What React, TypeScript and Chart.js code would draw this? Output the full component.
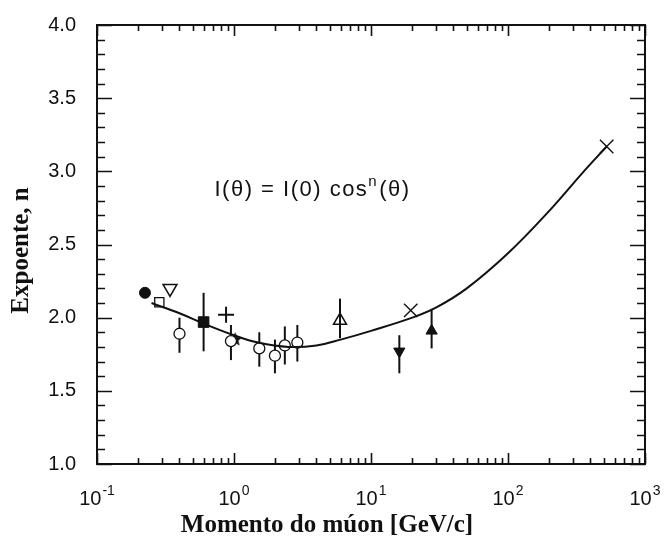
import React, { useEffect, useRef } from "react";
import { Chart, registerables } from "chart.js";

Chart.register(...registerables);

// ---- Axis ticks ----
const xTickValues = [0.1, 1, 10, 100, 1000];
const xTickBase = "10";
const xTickExponents = ["-1", "0", "1", "2", "3"];
const yTickValues = [1.0, 1.5, 2.0, 2.5, 3.0, 3.5, 4.0];
const yTickLabels = ["1.0", "1.5", "2.0", "2.5", "3.0", "3.5", "4.0"];

const xTitle = "Momento do múon [GeV/c]";
const yTitle = "Expoente, n";
const formulaMain = "I(θ) = I(0) cos";
const formulaSup = "n";
const formulaTail = "(θ)";
const formulaAt = { x: 0.72, y: 2.83 };

// ---- Fitted curve ----
const fitMomentum = [0.25, 0.4, 0.6, 1.0, 1.5, 2.5, 4, 6, 10, 20, 30, 50, 100, 200, 350, 525];
const fitExponent = [2.1, 2.03, 1.96, 1.88, 1.83, 1.8, 1.81, 1.85, 1.91, 2.0, 2.07, 2.2, 2.44, 2.73, 2.99, 3.17];

// ---- Measurements ----
const filledCircleP = [0.224];
const filledCircleN = [2.17];

const openSquareP = [0.285];
const openSquareN = [2.105];

const openDownTriP = [0.341];
const openDownTriN = [2.2];

const openCircleP = [0.4, 0.95, 1.53, 1.99, 2.35, 2.9];
const openCircleN = [1.89, 1.84, 1.79, 1.74, 1.81, 1.83];
const openCircleLo = [1.76, 1.71, 1.665, 1.62, 1.68, 1.7];
const openCircleHi = [2.0, 1.95, 1.9, 1.85, 1.94, 1.95];

const filledSquareP = [0.6];
const filledSquareN = [1.97];
const filledSquareLo = [1.77];
const filledSquareHi = [2.17];

const plusP = [0.875];
const plusN = [2.02];

const starP = [1.02];
const starN = [1.85];

const openUpTriP = [5.94];
const openUpTriN = [1.98];
const openUpTriLo = [1.86];
const openUpTriHi = [2.13];

const filledDownTriP = [16.1];
const filledDownTriN = [1.77];
const filledDownTriLo = [1.62];
const filledDownTriHi = [1.88];

const crossP = [19.5, 525];
const crossN = [2.05, 3.17];

const filledUpTriP = [27.7];
const filledUpTriN = [1.91];
const filledUpTriLo = [1.79];
const filledUpTriHi = [2.06];

const INK = "#111111";
const SANS = "'Liberation Sans', Arial, sans-serif";
const SERIF = "'Liberation Serif', 'Times New Roman', serif";

const pts = (xs: number[], ys: number[]) => xs.map((x, i) => ({ x, y: ys[i] }));

function makeStar(size: number) {
  const c = document.createElement("canvas");
  c.width = size;
  c.height = size;
  const ctx = c.getContext("2d")!;
  const cx = size / 2;
  const cy = size / 2;
  const R = size / 2;
  const r = R * 0.45;
  ctx.beginPath();
  for (let i = 0; i < 10; i++) {
    const a = -Math.PI / 2 + (i * Math.PI) / 5;
    const rad = i % 2 === 0 ? R : r;
    ctx.lineTo(cx + rad * Math.cos(a), cy + rad * Math.sin(a));
  }
  ctx.closePath();
  ctx.fillStyle = INK;
  ctx.fill();
  return c;
}

const decorPlugin = {
  id: "decor",
  beforeDatasetsDraw(chart: any) {
    const ctx = chart.ctx;
    const xs = chart.scales.x;
    const ys = chart.scales.y;
    ctx.save();
    ctx.strokeStyle = INK;
    ctx.lineWidth = 2;
    chart.data.datasets.forEach((ds: any) => {
      if (!ds.errLo) return;
      ds.data.forEach((p: any, i: number) => {
        const x = xs.getPixelForValue(p.x);
        ctx.beginPath();
        ctx.moveTo(x, ys.getPixelForValue(ds.errLo[i]));
        ctx.lineTo(x, ys.getPixelForValue(ds.errHi[i]));
        ctx.stroke();
      });
    });
    ctx.restore();
  },
  afterDatasetsDraw(chart: any) {
    const ctx = chart.ctx;
    const { left, right, top, bottom } = chart.chartArea;
    const xs = chart.scales.x;
    const ys = chart.scales.y;
    ctx.save();
    ctx.strokeStyle = INK;
    ctx.lineWidth = 2;
    ctx.strokeRect(left, top, right - left, bottom - top);
    ctx.lineWidth = 1.6;
    // y ticks (left & right, inward)
    for (let k = 10; k <= 40; k++) {
      const v = k / 10;
      const y = Math.round(ys.getPixelForValue(v)) + 0.5;
      const major = k % 5 === 0;
      const len = major ? 15 : 8;
      ctx.beginPath();
      ctx.moveTo(left, y);
      ctx.lineTo(left + len, y);
      ctx.moveTo(right, y);
      ctx.lineTo(right - len, y);
      ctx.stroke();
    }
    // x ticks (bottom & top, inward)
    for (let d = -1; d <= 3; d++) {
      for (let m = 1; m <= 9; m++) {
        if (d === 3 && m > 1) break;
        const v = m * Math.pow(10, d);
        const x = Math.round(xs.getPixelForValue(v)) + 0.5;
        const len = m === 1 ? 11 : 6;
        ctx.beginPath();
        ctx.moveTo(x, bottom);
        ctx.lineTo(x, bottom - len);
        ctx.moveTo(x, top);
        ctx.lineTo(x, top + len);
        ctx.stroke();
      }
    }
    // formula
    const fx = xs.getPixelForValue(formulaAt.x);
    const fy = ys.getPixelForValue(formulaAt.y);
    ctx.fillStyle = INK;
    ctx.textBaseline = "alphabetic";
    ctx.textAlign = "left";
    (ctx as any).letterSpacing = "1.5px";
    ctx.font = `22px ${SANS}`;
    ctx.fillText(formulaMain, fx, fy);
    let w = ctx.measureText(formulaMain).width;
    ctx.font = `15px ${SANS}`;
    ctx.fillText(formulaSup, fx + w, fy - 10);
    w += ctx.measureText(formulaSup).width + 1;
    ctx.font = `22px ${SANS}`;
    ctx.fillText(formulaTail, fx + w, fy);
    (ctx as any).letterSpacing = "0px";
    ctx.restore();
  },
  afterDraw(chart: any) {
    const ctx = chart.ctx;
    const xs = chart.scales.x;
    const { bottom, top } = chart.chartArea;
    ctx.save();
    ctx.fillStyle = INK;
    // x tick labels: base 10 with raised exponent
    ctx.textBaseline = "alphabetic";
    ctx.textAlign = "left";
    xTickValues.forEach((v, i) => {
      const x = xs.getPixelForValue(v);
      ctx.font = `20px ${SANS}`;
      const wb = ctx.measureText(xTickBase).width;
      ctx.font = `14px ${SANS}`;
      const we = ctx.measureText(xTickExponents[i]).width;
      const total = wb + 1 + we;
      const x0 = x - total / 2;
      const by = bottom + 41;
      ctx.font = `20px ${SANS}`;
      ctx.fillText(xTickBase, x0, by);
      ctx.font = `14px ${SANS}`;
      ctx.fillText(xTickExponents[i], x0 + wb + 1, by - 10);
    });
    // x axis title
    ctx.font = `bold 25px ${SERIF}`;
    ctx.textAlign = "center";
    ctx.textBaseline = "middle";
    ctx.fillText(xTitle, 327, 526);
    // y axis title (rotated)
    ctx.translate(22, (top + bottom) / 2 + 6);
    ctx.rotate(-Math.PI / 2);
    ctx.fillText(yTitle, 0, 0);
    ctx.restore();
  },
};

export default function App() {
  const ref = useRef<HTMLCanvasElement | null>(null);

  useEffect(() => {
    if (!ref.current) return;
    const star = makeStar(15);
    const chart = new Chart(ref.current, {
      type: "scatter",
      data: {
        datasets: [
          {
            label: "fit",
            data: pts(fitMomentum, fitExponent),
            showLine: true,
            borderColor: INK,
            borderWidth: 2,
            pointRadius: 0,
            tension: 0.4,
            fill: false,
          } as any,
          {
            label: "open circles",
            data: pts(openCircleP, openCircleN),
            pointStyle: "circle",
            pointRadius: 5.5,
            pointBorderWidth: 1.3,
            borderColor: INK,
            backgroundColor: "#ffffff",
            errLo: openCircleLo,
            errHi: openCircleHi,
          } as any,
          {
            label: "filled circle",
            data: pts(filledCircleP, filledCircleN),
            pointStyle: "circle",
            pointRadius: 5.5,
            borderColor: INK,
            backgroundColor: INK,
          },
          {
            label: "open square",
            data: pts(openSquareP, openSquareN),
            pointStyle: "rect",
            pointRadius: 6.5,
            pointBorderWidth: 1.3,
            borderColor: INK,
            backgroundColor: "#ffffff",
          },
          {
            label: "open down triangle",
            data: pts(openDownTriP, openDownTriN),
            pointStyle: "triangle",
            pointRotation: 180,
            pointRadius: 8,
            pointBorderWidth: 1.5,
            borderColor: INK,
            backgroundColor: "#ffffff",
          },
          {
            label: "filled square",
            data: pts(filledSquareP, filledSquareN),
            pointStyle: "rect",
            pointRadius: 7.5,
            borderColor: INK,
            backgroundColor: INK,
            errLo: filledSquareLo,
            errHi: filledSquareHi,
          } as any,
          {
            label: "plus",
            data: pts(plusP, plusN),
            pointStyle: "cross",
            pointRadius: 8,
            pointBorderWidth: 2,
            borderColor: INK,
          },
          {
            label: "star",
            data: pts(starP, starN),
            pointStyle: star as any,
            pointRadius: 7,
            borderColor: INK,
          },
          {
            label: "open up triangle",
            data: pts(openUpTriP, openUpTriN),
            pointStyle: "triangle",
            pointRadius: 7.5,
            pointBorderWidth: 1.5,
            borderColor: INK,
            backgroundColor: "rgba(255,255,255,0)",
            errLo: openUpTriLo,
            errHi: openUpTriHi,
          } as any,
          {
            label: "filled down triangle",
            data: pts(filledDownTriP, filledDownTriN),
            pointStyle: "triangle",
            pointRotation: 180,
            pointRadius: 6.5,
            borderColor: INK,
            backgroundColor: INK,
            errLo: filledDownTriLo,
            errHi: filledDownTriHi,
          } as any,
          {
            label: "cross",
            data: pts(crossP, crossN),
            pointStyle: "crossRot",
            pointRadius: 9.5,
            pointBorderWidth: 1.4,
            borderColor: INK,
          },
          {
            label: "filled up triangle",
            data: pts(filledUpTriP, filledUpTriN),
            pointStyle: "triangle",
            pointRadius: 6.5,
            borderColor: INK,
            backgroundColor: INK,
            errLo: filledUpTriLo,
            errHi: filledUpTriHi,
          } as any,
        ],
      },
      options: {
        responsive: false,
        animation: false,
        devicePixelRatio: 1,
        layout: { padding: { left: 0, top: 25, right: 21, bottom: 0 }, autoPadding: false },
        plugins: { legend: { display: false }, tooltip: { enabled: false } },
        scales: {
          x: {
            type: "logarithmic",
            min: 0.1,
            max: 1000,
            grid: { display: false },
            border: { display: false },
            afterBuildTicks: (s: any) => {
              s.ticks = xTickValues.map((v) => ({ value: v }));
            },
            afterFit: (s: any) => {
              s.height = 78;
            },
            ticks: { display: false },
          },
          y: {
            type: "linear",
            min: 1,
            max: 4,
            grid: { display: false },
            border: { display: false },
            afterBuildTicks: (s: any) => {
              s.ticks = yTickValues.map((v) => ({ value: v }));
            },
            afterFit: (s: any) => {
              s.width = 97;
            },
            ticks: {
              padding: 13,
              color: INK,
              font: { family: SANS, size: 20 },
              callback: (_v: any, i: number) => yTickLabels[i],
            },
          },
        },
      } as any,
      plugins: [decorPlugin],
    });
    return () => chart.destroy();
  }, []);

  return (
    <div style={{ position: "fixed", left: 0, top: 0, width: 666, height: 542, background: "#fff" }}>
      <canvas ref={ref} width={666} height={542} style={{ display: "block" }} />
    </div>
  );
}
